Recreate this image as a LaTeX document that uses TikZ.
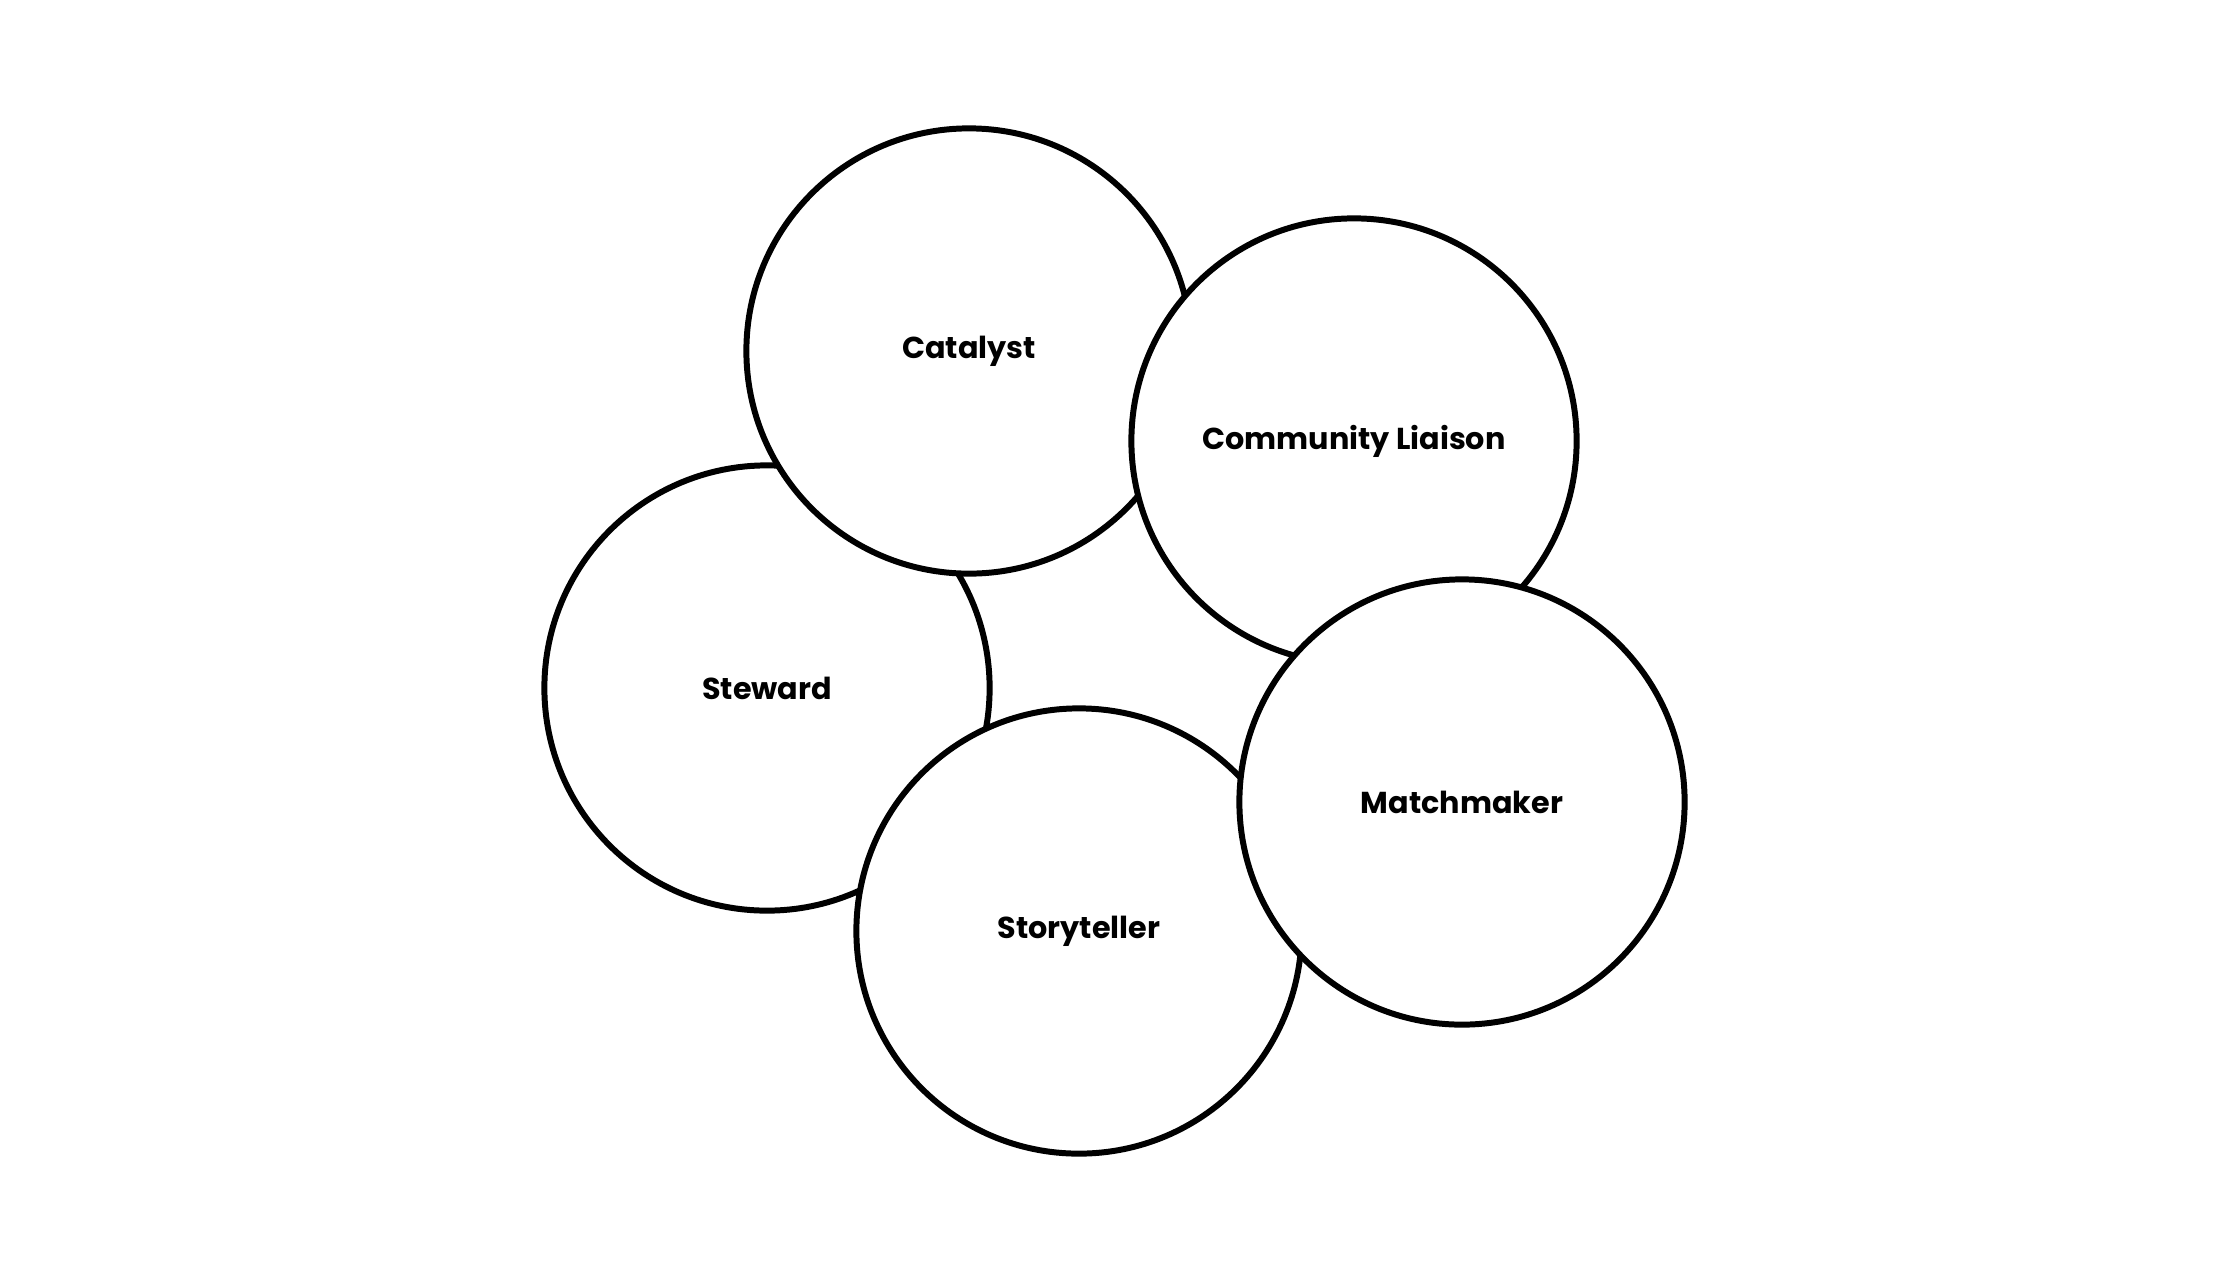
\documentclass[tikz,border=0pt]{standalone}
\usepackage{fontspec}
\setmainfont{Poppins}
\begin{document}
\begin{tikzpicture}[x=0.01cm,y=-0.01cm,
  role/.style={circle,draw=black,fill=white,line width=1.7pt,minimum size=4.45cm,inner sep=0pt,font=\fontsize{8.6}{10.5}\selectfont\bfseries}]
\useasboundingbox[fill=white] (0,0) rectangle (2240,1260);
\node[role] (steward) at (767,688) {Steward};
\node[role] (catalyst) at (969,351) {Catalyst};
\node[role] (liaison) at (1354,441) {Community Liaison};
\node[role] (story) at (1079,931) {Storyteller};
\node[role] (match) at (1462,802) {Matchmaker};
\end{tikzpicture}
\end{document}
